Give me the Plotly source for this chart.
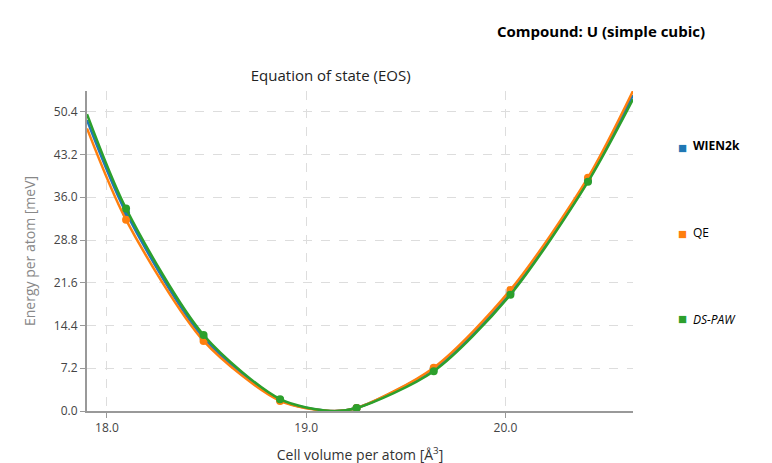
import plotly.graph_objects as go

vol = [18.096, 18.485, 18.869, 19.253, 19.64, 20.025, 20.414]
e_wien = [33.4, 12.3, 1.85, 0.5, 7.1, 19.9, 38.8]
e_qe = [32.2, 11.8, 1.7, 0.5, 7.3, 20.4, 39.3]
e_paw = [34.1, 12.8, 2.0, 0.5, 6.7, 19.6, 38.6]

# fitted curves
fit_vol = [17.90, 18.096, 18.485, 18.869, 19.12, 19.253, 19.64, 20.025, 20.414, 20.64]
fit_wien = [49.0, 33.4, 12.3, 1.85, 0.0, 0.5, 7.1, 19.9, 38.8, 53.2]
fit_qe = [47.6, 32.2, 11.8, 1.7, 0.0, 0.5, 7.3, 20.4, 39.3, 53.9]
fit_paw = [50.0, 34.1, 12.8, 2.0, 0.0, 0.5, 6.7, 19.6, 38.6, 52.5]

names = ['<b>WIEN2k</b>', 'QE', '<i>DS-PAW</i>']
colors = ['#1f77b4', '#ff7f0e', '#2ca02c']
yticks = [0.0, 7.2, 14.4, 21.6, 28.8, 36.0, 43.2, 50.4]

fig = go.Figure()
for fy, py, c in zip([fit_wien, fit_qe, fit_paw], [e_wien, e_qe, e_paw], colors):
    fig.add_trace(go.Scatter(x=fit_vol, y=fy, mode='lines', line=dict(color=c, width=2.5, shape='spline', smoothing=0.8),
                             showlegend=False))
    fig.add_trace(go.Scatter(x=vol, y=py, mode='markers', marker=dict(color=c, size=8), showlegend=False))

for i, (n, c) in enumerate(zip(names, colors)):
    yp = 0.862 - i * 0.305
    fig.add_annotation(xref='paper', yref='paper', x=1.09, y=yp, text='■', showarrow=False,
                       font=dict(size=15, color=c), xanchor='center')
    fig.add_annotation(xref='paper', yref='paper', x=1.107, y=yp, text=n, showarrow=False,
                       font=dict(size=12, color='black'), xanchor='left')

fig.add_annotation(xref='paper', yref='paper', x=1.136, y=1.225, text='<b>Compound: U (simple cubic)</b>',
                   showarrow=False, font=dict(size=15, color='black'), xanchor='right')

fig.update_layout(
    width=772, height=463,
    margin=dict(l=79, r=147, t=83, b=60, autoexpand=False),
    plot_bgcolor='white', paper_bgcolor='white',
    font=dict(family='Open Sans', size=12, color='#444'),
    title=dict(text='Equation of state (EOS)', x=0.418, xanchor='center', y=0.865, font=dict(size=15, color='#222')),
    xaxis=dict(range=[17.90, 20.64], tickvals=[18.0, 19.0, 20.0], ticktext=['18.0', '19.0', '20.0'],
               showgrid=True, gridcolor='#ddd', griddash='dash', zeroline=False, automargin=False,
               showline=True, linecolor='#999', linewidth=2, ticks='outside', tickcolor='#999',
               title=dict(text='Cell volume per atom [Å<sup>3</sup>]', font=dict(size=14, color='#333'))),
    yaxis=dict(range=[0, 53.9], tickvals=yticks, ticktext=['%.1f' % v for v in yticks],
               showgrid=True, gridcolor='#ddd', griddash='dash', zeroline=False, automargin=False,
               showline=True, linecolor='#999', linewidth=2, ticks='outside', tickcolor='#999',
               title=dict(text='Energy per atom [meV]', font=dict(size=14, color='#888'))),
)

fig.write_html("out.html")
